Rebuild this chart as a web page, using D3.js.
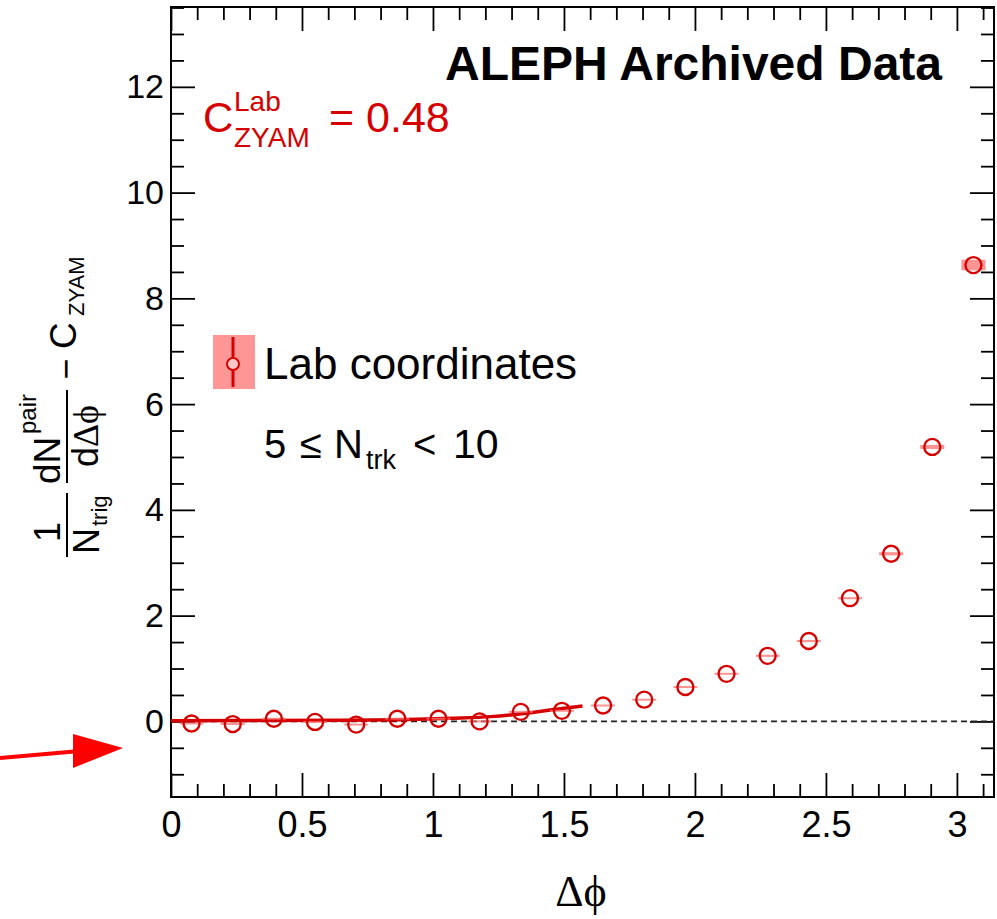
<!DOCTYPE html>
<html><head><meta charset="utf-8">
<script src="https://cdn.jsdelivr.net/npm/d3@7"></script>
<style>body{margin:0;background:#fff;} svg{display:block;}</style>
</head><body>
<script>
// ---- data ----
const dphi = [0.0785, 0.2356, 0.3927, 0.5498, 0.7069, 0.8639, 1.0210, 1.1781, 1.3352, 1.4923,
              1.6493, 1.8064, 1.9635, 2.1206, 2.2777, 2.4347, 2.5918, 2.7489, 2.9060, 3.0631];
const yieldVals = [-0.04, -0.05, 0.05, -0.01, -0.06, 0.05, 0.05, 0.00, 0.18, 0.20,
                   0.30, 0.41, 0.65, 0.90, 1.24, 1.52, 2.33, 3.17, 5.19, 8.63];
const statErr = [0.18, 0.18, 0.18, 0.18, 0.18, 0.18, 0.18, 0.18, 0.18, 0.18,
                 0.18, 0.18, 0.18, 0.19, 0.19, 0.19, 0.19, 0.19, 0.2, 0.2];
const sysErr = [0.01, 0.01, 0.01, 0.01, 0.01, 0.01, 0.01, 0.01, 0.01, 0.01,
                0.01, 0.01, 0.01, 0.01, 0.02, 0.02, 0.02, 0.03, 0.04, 0.1];
const fitPhi = [0, 0.65, 1.07, 1.22, 1.38, 1.44, 1.5708];
const fitVals = [0.01, 0.02, 0.06, 0.09, 0.17, 0.21, 0.29];
const xTicks = [0, 0.5, 1, 1.5, 2, 2.5, 3];
const xTickLabels = ["0", "0.5", "1", "1.5", "2", "2.5", "3"];
const yTicks = [0, 2, 4, 6, 8, 10, 12];
const yTickLabels = ["0", "2", "4", "6", "8", "10", "12"];
const xMinor = [0.1,0.2,0.3,0.4,0.6,0.7,0.8,0.9,1.1,1.2,1.3,1.4,1.6,1.7,1.8,1.9,2.1,2.2,2.3,2.4,2.6,2.7,2.8,2.9,3.1];
const yMinor = [-1,-0.5,0.5,1,1.5,2.5,3,3.5,4.5,5,5.5,6.5,7,7.5,8.5,9,9.5,10.5,11,11.5,12.5,13,13.5];
const czyamValue = "0.48";

// ---- layout ----
const W = 997, H = 919;
const L = 171, R = 994, T = 7, B = 797;
const RED = "#d60000";
const SANS = "'Liberation Sans', Arial, Helvetica, sans-serif";
const SERIF = "'Liberation Serif', 'DejaVu Serif', serif";
const RAD = 8;

const svg = d3.select("body").append("svg").attr("width", W).attr("height", H);
const x = d3.scaleLinear().domain([0, Math.PI]).range([L, R]);
const y = d3.scaleLinear().domain([-1.43, 13.51]).range([B, T]);

// ---- axes ----
function styleAxis(g) {
  g.select(".domain").remove();
  g.selectAll(".tick line").attr("stroke", "#000").attr("stroke-width", 1.8);
  g.selectAll("text").attr("fill", "#000").attr("font-family", SANS);
}
svg.append("g").attr("transform", `translate(${L},0)`)
  .call(d3.axisLeft(y).tickValues(yTicks).tickFormat((d,i)=>yTickLabels[i]).tickSizeInner(-24).tickSizeOuter(0).tickPadding(7))
  .call(styleAxis).selectAll("text").attr("font-size", 34);
svg.append("g").attr("transform", `translate(${L},0)`)
  .call(d3.axisLeft(y).tickValues(yMinor).tickFormat("").tickSizeInner(-13).tickSizeOuter(0)).call(styleAxis);
svg.append("g").attr("transform", `translate(${R},0)`)
  .call(d3.axisRight(y).tickValues(yTicks).tickFormat("").tickSizeInner(-24).tickSizeOuter(0)).call(styleAxis);
svg.append("g").attr("transform", `translate(${R},0)`)
  .call(d3.axisRight(y).tickValues(yMinor).tickFormat("").tickSizeInner(-13).tickSizeOuter(0)).call(styleAxis);

svg.append("g").attr("transform", `translate(0,${B})`)
  .call(d3.axisBottom(x).tickValues(xTicks).tickFormat((d,i)=>xTickLabels[i]).tickSizeInner(-24).tickSizeOuter(0).tickPadding(14))
  .call(styleAxis).selectAll("text").attr("font-size", 36);
svg.append("g").attr("transform", `translate(0,${B})`)
  .call(d3.axisBottom(x).tickValues(xMinor).tickFormat("").tickSizeInner(-13).tickSizeOuter(0)).call(styleAxis);
svg.append("g").attr("transform", `translate(0,${T})`)
  .call(d3.axisTop(x).tickValues(xTicks).tickFormat("").tickSizeInner(-24).tickSizeOuter(0)).call(styleAxis);
svg.append("g").attr("transform", `translate(0,${T})`)
  .call(d3.axisTop(x).tickValues(xMinor).tickFormat("").tickSizeInner(-13).tickSizeOuter(0)).call(styleAxis);

svg.append("rect").attr("x", L).attr("y", T).attr("width", R - L).attr("height", B - T)
  .attr("fill", "none").attr("stroke", "#000").attr("stroke-width", 2);

// ---- zero dashed line ----
svg.append("line").attr("x1", x(0)).attr("x2", x(Math.PI)).attr("y1", y(0)).attr("y2", y(0))
  .attr("stroke", "#222").attr("stroke-width", 1.6).attr("stroke-dasharray", "6,4");

// ---- fit line ----
svg.append("path")
  .datum(fitPhi.map((p, i) => [p, fitVals[i]]))
  .attr("d", d3.line().x(d => x(d[0])).y(d => y(d[1])).curve(d3.curveMonotoneX))
  .attr("fill", "none").attr("stroke", RED).attr("stroke-width", 3.5);

// ---- points ----
const pts = dphi.map((p, i) => ({p, v: yieldVals[i], s: statErr[i], e: sysErr[i]}));
const gp = svg.append("g");
gp.selectAll("rect.sys").data(pts).join("rect").attr("class", "sys")
  .attr("x", d => x(d.p) - 12).attr("width", 24)
  .attr("y", d => Math.min(y(d.v + d.e), y(d.v) - 1))
  .attr("height", d => Math.max(y(d.v - d.e) - y(d.v + d.e), 2))
  .attr("fill", "#ff7070").attr("opacity", 0.75);
gp.selectAll("line.statUp").data(pts).join("line").attr("class", "statUp")
  .attr("x1", d => x(d.p)).attr("x2", d => x(d.p))
  .attr("y1", d => y(d.v + d.s)).attr("y2", d => Math.min(y(d.v) - RAD, y(d.v + d.s)))
  .attr("stroke", "#f08080").attr("stroke-width", 1);
gp.selectAll("line.statDn").data(pts).join("line").attr("class", "statDn")
  .attr("x1", d => x(d.p)).attr("x2", d => x(d.p))
  .attr("y1", d => Math.max(y(d.v) + RAD, y(d.v - d.s))).attr("y2", d => y(d.v - d.s))
  .attr("stroke", "#f08080").attr("stroke-width", 1);
gp.selectAll("circle").data(pts).join("circle")
  .attr("cx", d => x(d.p)).attr("cy", d => y(d.v)).attr("r", RAD)
  .attr("fill", "none").attr("stroke", RED).attr("stroke-width", 2.3);

// ---- texts ----
svg.append("text").attr("x", 942).attr("y", 80).attr("text-anchor", "end")
  .attr("font-family", SANS).attr("font-weight", "bold").attr("font-size", 48).attr("fill", "#000")
  .text("ALEPH Archived Data");

const cz = svg.append("g").attr("fill", RED).attr("font-family", SANS);
cz.append("text").attr("x", 203).attr("y", 132).attr("font-size", 42).text("C");
cz.append("text").attr("x", 234).attr("y", 111).attr("font-size", 28).text("Lab");
cz.append("text").attr("x", 234).attr("y", 147).attr("font-size", 28).text("ZYAM");
cz.append("text").attr("x", 329).attr("y", 132).attr("font-size", 43).text("= " + czyamValue);

// legend
svg.append("rect").attr("x", 213).attr("y", 335).attr("width", 42).attr("height", 54).attr("fill", "#ff9696");
svg.append("line").attr("x1", 233).attr("x2", 233).attr("y1", 337).attr("y2", 387).attr("stroke", RED).attr("stroke-width", 3);
svg.append("circle").attr("cx", 233).attr("cy", 364).attr("r", 6).attr("fill", "#ffc8c8").attr("stroke", RED).attr("stroke-width", 2);
svg.append("text").attr("x", 264).attr("y", 379).attr("font-family", SANS).attr("font-size", 44).attr("fill", "#000").text("Lab coordinates");

const nt = svg.append("g").attr("font-family", SANS).attr("fill", "#000");
nt.append("text").attr("x", 264).attr("y", 458).attr("font-size", 40).text("5");
nt.append("text").attr("x", 300).attr("y", 458).attr("font-size", 40).text("≤");
nt.append("text").attr("x", 334).attr("y", 458).attr("font-size", 40).text("N");
nt.append("text").attr("x", 366).attr("y", 469).attr("font-size", 27).text("trk");
nt.append("text").attr("x", 413).attr("y", 458).attr("font-size", 40).text("<");
nt.append("text").attr("x", 453).attr("y", 458).attr("font-size", 41).text("10");

// x title
svg.append("text").attr("x", 581).attr("y", 906).attr("text-anchor", "middle")
  .attr("font-family", SERIF).attr("font-size", 44).attr("fill", "#000").text("Δϕ");

// y title (rotated)
const yt = svg.append("g").attr("transform", "translate(67,405) rotate(-90)")
  .attr("font-family", SANS).attr("fill", "#000");
yt.append("text").attr("x", -127).attr("y", -7).attr("text-anchor", "middle").attr("font-size", 36).text("1");
yt.append("line").attr("x1", -152).attr("x2", -88).attr("y1", 0).attr("y2", 0).attr("stroke", "#000").attr("stroke-width", 2);
yt.append("text").attr("x", -149).attr("y", 32).attr("font-size", 36).text("N");
yt.append("text").attr("x", -121).attr("y", 40).attr("font-size", 22).text("trig");
yt.append("line").attr("x1", -78).attr("x2", 15).attr("y1", 0).attr("y2", 0).attr("stroke", "#000").attr("stroke-width", 2);
yt.append("text").attr("x", -79).attr("y", -7).attr("font-size", 37).text("dN");
yt.append("text").attr("x", -29).attr("y", -31).attr("font-size", 24).text("pair");
const den = yt.append("text").attr("x", -31).attr("y", 31).attr("text-anchor", "middle").attr("font-size", 36);
den.append("tspan").text("d");
den.append("tspan").attr("font-family", SERIF).text("Δϕ");
yt.append("text").attr("x", 36).attr("y", 11).attr("text-anchor", "middle").attr("font-size", 36).text("−");
yt.append("text").attr("x", 56).attr("y", 9).attr("font-size", 37).text("C");
yt.append("text").attr("x", 89).attr("y", 17).attr("font-size", 22).text("ZYAM");

// red arrow annotation
svg.append("line").attr("x1", 0).attr("y1", 758).attr("x2", 80).attr("y2", 751)
  .attr("stroke", "#ff0000").attr("stroke-width", 4);
svg.append("path").attr("d", "M73,734 L123,748 L73,768 Z").attr("fill", "#ff0000");
</script>
</body></html>
